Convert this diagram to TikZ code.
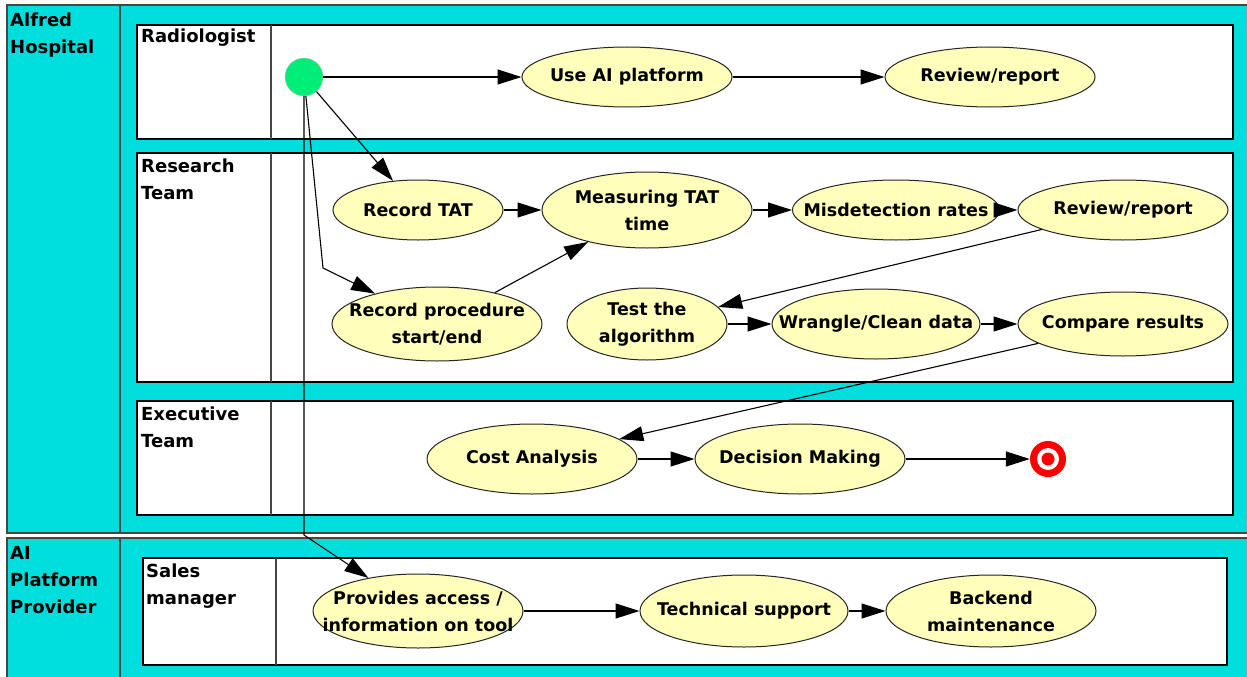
\documentclass[tikz,border=0pt]{standalone}
\usepackage{fontspec}
\setmainfont{DejaVu Sans}
\usetikzlibrary{shapes.geometric,arrows.meta}

\definecolor{poolcyan}{RGB}{0,221,221}
\definecolor{actyellow}{RGB}{255,255,187}
\definecolor{startgreen}{RGB}{0,238,119}
\definecolor{framegray}{RGB}{70,70,70}

\tikzset{
	pool/.style={fill=poolcyan,draw=framegray,line width=1.5pt},
	lane/.style={fill=white,draw=black,line width=1.3pt},
	divider/.style={draw=framegray,line width=1.2pt},
	lanelabel/.style={anchor=north west,align=left,inner sep=0pt,font=\fontsize{18}{27}\selectfont\bfseries},
	activity/.style={ellipse,draw=black!85,line width=1pt,fill=actyellow,
		minimum width=210pt,minimum height=60pt,inner xsep=-30pt,inner ysep=0pt,
		align=center,font=\fontsize{17.5}{27}\selectfont\bfseries},
	flow/.style={line width=1.1pt,-{Triangle[length=24pt,width=15pt]}},
}

\begin{document}
\begin{tikzpicture}[x=1pt,y=-1pt]
	\useasboundingbox (0,0) rectangle (1247,677);
	
	%POOLS
	\draw[pool] (7,5) rectangle (1252,533);
	\draw[divider,line width=1.5pt] (120,5) -- (120,533);
	\draw[pool] (7,538) rectangle (1252,682);
	\draw[divider,line width=1.5pt] (120,538) -- (120,682);
	\node[lanelabel] (hosp) at (10,13) {Alfred\\Hospital};
	\node[lanelabel] (prov) at (10,546) {AI\\Platform\\Provider};
	
	%LANES
	\foreach \xa/\ya/\xb/\yb/\xd in {137/25/1233/139/271, 137/153/1233/382/271, 137/401/1233/515/271, 143/558/1227/665/276}{
		\draw[lane] (\xa,\ya) rectangle (\xb,\yb);
		\draw[divider] (\xd,\ya) -- (\xd,\yb);
	}
	\node[lanelabel] (radio) at (141,29) {Radiologist};
	\node[lanelabel] (research) at (141,159) {Research\\Team};
	\node[lanelabel] (exec) at (141,407) {Executive\\Team};
	\node[lanelabel] (sales) at (146,564) {Sales\\manager};
	
	%ACTIVITIES
	\node[circle,fill=startgreen,draw=black!25,minimum size=38pt,inner sep=0pt] (start) at (304,77) {};
	\node[activity] (useai) at (627,77) {Use AI platform};
	\node[activity] (radrev) at (990,77) {Review/report};
	
	\node[activity,minimum width=170pt] (rectat) at (418,210) {Record TAT};
	\node[activity,minimum height=76pt] (meas) at (647,210) {Measuring TAT\\time};
	\node[activity,minimum width=207pt] (misdet) at (896,210) {Misdetection rates};
	\node[activity] (resrev) at (1123,210) {Review/report};
	\node[activity,minimum height=74pt] (recproc) at (437,324) {Record procedure\\start/end};
	\node[activity,minimum width=160pt,minimum height=72pt] (test) at (647,324) {Test the\\algorithm};
	\node[activity,minimum width=208pt,minimum height=70pt] (wrangle) at (876,324) {Wrangle/Clean data};
	\node[activity,minimum height=64pt] (compare) at (1123,324) {Compare results};
	
	\node[activity,minimum height=70pt] (cost) at (532,459) {Cost Analysis};
	\node[activity,minimum height=70pt] (decide) at (800,459) {Decision Making};
	\node[circle,fill=red,minimum size=36pt,inner sep=0pt] (finish) at (1048,459) {};
	\fill[white] (finish.center) circle (11);
	\fill[red] (finish.center) circle (6.5);
	
	\node[activity,minimum height=74pt] (provide) at (418,611) {Provides access /\\information on tool};
	\node[activity,minimum width=208pt,minimum height=72pt] (techsup) at (744,611) {Technical support};
	\node[activity,minimum height=72pt] (backend) at (991,611) {Backend\\maintenance};
	
	%FLOWS
	\coordinate (bendA) at (323,268);
	\coordinate (bendB) at (304,535);
	\draw[flow] (start) -- (useai);
	\draw[flow] (useai) -- (radrev);
	\draw[flow] (start) -- (rectat);
	\draw[flow] (start) -- (bendA) -- (recproc);
	\draw[flow] (start) -- (bendB) -- (provide);
	\draw[flow] (rectat) -- (meas);
	\draw[flow] (recproc) -- (meas);
	\draw[flow] (meas) -- (misdet);
	\draw[flow] (misdet) -- (resrev);
	\draw[flow] (resrev) -- (test);
	\draw[flow] (test) -- (wrangle);
	\draw[flow] (wrangle) -- (compare);
	\draw[flow] (compare) -- (cost);
	\draw[flow] (cost) -- (decide);
	\draw[flow] (decide) -- (finish);
	\draw[flow] (provide) -- (techsup);
	\draw[flow] (techsup) -- (backend);
\end{tikzpicture}
\end{document}
